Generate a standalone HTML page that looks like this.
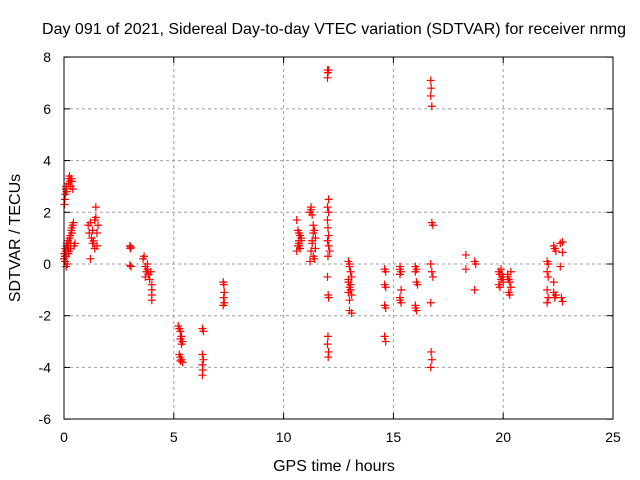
<!DOCTYPE html>
<html><head><meta charset="utf-8"><style>
html,body{margin:0;padding:0;background:#fff;}
svg{display:block;font-family:"Liberation Sans",sans-serif;}
</style></head><body>
<svg id="chart" width="640" height="480">
<rect width="640" height="480" fill="#fff"/>
<text x="334" y="34" font-size="16" text-anchor="middle">Day 091 of 2021, Sidereal Day-to-day VTEC variation (SDTVAR) for receiver nrmg</text>
<text x="334" y="471" font-size="16" text-anchor="middle">GPS time / hours</text>
<text transform="translate(20,238) rotate(-90)" font-size="16" text-anchor="middle">SDTVAR / TECUs</text>
<g id="grid"></g><g id="pts"></g>
<rect x="64" y="57" width="549" height="362" fill="none" stroke="#000" stroke-width="1"/>
</svg>
<script>
const xTicks=[0,5,10,15,20,25];
const yTicks=[-6,-4,-2,0,2,4,6,8];
const hours=[0.02,0.04,0.06,0.08,0.1,0.12,0.2,0.22,0.25,0.28,0.3,0.33,0.36,0.4,
0.0,0.02,0.04,0.06,0.08,0.1,0.12,0.14,0.16,0.18,0.2,0.22,0.25,0.28,0.3,0.33,0.36,0.4,0.43,0.46,0.5,0.05,0.1,0.15,0.2,0.3,0.35,
1.1,1.15,1.2,1.25,1.3,1.35,1.4,1.45,1.5,1.55,1.2,1.3,1.4,1.45,1.5,
3.0,3.02,3.05,3.0,3.05,
3.6,3.65,3.7,3.75,3.8,3.85,3.9,3.95,4.0,4.0,4.0,4.0,3.7,3.8,
5.2,5.25,5.3,5.35,5.4,5.3,5.35,5.25,5.3,5.35,5.4,5.3,
6.3,6.35,6.3,6.35,6.3,6.32,6.3,
7.25,7.28,7.3,7.27,7.3,7.25,
10.6,10.65,10.7,10.75,10.8,10.65,10.7,10.75,10.6,10.7,10.8,10.7,
11.2,11.25,11.3,11.35,11.4,11.45,11.3,11.25,11.35,11.4,11.2,11.3,11.35,11.45,11.25,
12.0,12.02,12.05,12.0,12.05,12.0,12.05,12.0,12.02,12.05,12.0,12.05,12.1,12.02,12.0,12.03,12.05,12.02,12.0,12.05,12.03,
12.95,13.0,13.05,13.1,12.95,13.0,13.05,13.1,13.0,12.95,13.05,13.0,13.1,13.0,12.95,
14.6,14.65,14.6,14.65,14.6,14.65,14.6,14.65,
15.3,15.35,15.3,15.35,15.3,15.35,15.3,15.3,
16.0,16.05,16.0,16.05,16.1,16.0,16.05,16.0,
16.7,16.72,16.7,16.75,16.75,16.8,16.7,16.75,16.8,16.7,16.72,16.75,16.7,
18.3,18.3,18.7,18.75,18.7,
19.8,19.85,19.9,19.95,20.0,19.8,19.9,20.0,19.85,19.95,20.2,20.25,20.3,20.35,20.25,20.3,20.2,20.35,
22.0,22.05,22.0,22.05,22.0,22.05,22.0,22.3,22.35,22.4,22.3,22.4,22.3,22.35,22.6,22.7,22.6,22.7,22.65,22.7];
const values=[2.3,2.5,2.7,2.9,3.0,2.8,3.1,3.3,3.4,3.2,3.0,3.3,3.2,2.9,
0.2,0.4,0.3,0.6,0.5,0.3,0.7,0.8,0.6,0.9,0.7,0.5,1.0,1.1,0.8,1.3,1.2,1.5,1.6,0.7,0.8,0.1,-0.1,0.0,0.4,0.6,1.4,
1.5,1.2,1.6,1.0,1.3,0.9,1.7,1.8,1.2,1.5,0.2,0.8,0.6,2.2,0.7,
0.7,0.6,0.65,-0.05,-0.1,
0.2,0.3,-0.1,-0.3,0.0,-0.4,-0.6,-0.3,-0.8,-1.0,-1.2,-1.4,-0.5,-0.2,
-2.4,-2.5,-2.6,-2.8,-3.0,-2.9,-3.1,-3.5,-3.6,-3.7,-3.8,-3.75,
-2.5,-2.6,-3.5,-3.7,-3.9,-4.1,-4.3,
-0.7,-0.8,-1.1,-1.3,-1.5,-1.6,
0.5,0.7,0.9,1.1,1.0,1.3,0.8,0.6,1.7,1.2,0.9,0.7,
2.0,2.1,1.9,1.5,1.3,1.0,0.8,0.5,0.3,0.2,0.1,0.9,1.2,0.6,2.2,
7.5,7.4,7.5,7.2,2.5,2.2,2.0,1.7,1.4,1.1,0.9,0.7,0.5,0.3,-0.5,-1.2,-1.3,-2.8,-3.1,-3.4,-3.6,
0.1,-0.1,-0.3,-0.5,-0.7,-0.9,-1.0,-1.2,-1.4,-0.6,-0.8,-1.8,-1.9,0.0,-1.1,
-0.2,-0.3,-0.8,-0.9,-1.6,-1.7,-2.8,-3.0,
-0.1,-0.3,-0.4,-1.0,-1.3,-1.5,-1.4,-0.2,
-0.1,-0.2,-0.3,-0.7,-0.8,-1.6,-1.8,-1.7,
7.1,6.8,6.5,6.1,1.6,1.5,0.0,-0.3,-0.5,-1.5,-3.4,-3.7,-4.0,
0.35,-0.2,0.1,0.0,-1.0,
-0.3,-0.4,-0.6,-0.5,-0.7,-0.8,-0.2,-0.5,-0.9,-0.4,-0.5,-0.6,-0.7,-0.9,-1.1,-1.2,-0.4,-0.3,
0.1,0.0,-0.3,-0.5,-1.0,-1.3,-1.5,0.7,0.6,0.5,-0.7,-1.2,-1.1,-1.3,-0.1,0.85,0.8,0.45,-1.3,-1.45];
const NS="http://www.w3.org/2000/svg";
const X=h=>64+h*549/25, Y=v=>264-v*362/14;
const g=document.getElementById('grid'), p=document.getElementById('pts');
function mk(t,a,par){const e=document.createElementNS(NS,t);for(const k in a)e.setAttribute(k,a[k]);par.appendChild(e);return e;}
xTicks.forEach(t=>{const x=X(t);
 if(t>0&&t<25){const l=mk('line',{x1:x,y1:57,x2:x,y2:419,stroke:'#a0a0a0','stroke-dasharray':'3,3'},g);
 
 }
 mk('line',{x1:x,y1:419,x2:x,y2:413,stroke:'#000'},g);mk('line',{x1:x,y1:57,x2:x,y2:63,stroke:'#000'},g);
 const tx=mk('text',{x:x,y:442,'font-size':14,'text-anchor':'middle'},g);tx.textContent=t;
 
 });
yTicks.forEach(t=>{const y=Y(t);
 if(t>-6&&t<8){const l=mk('line',{x1:64,y1:y,x2:613,y2:y,stroke:'#a0a0a0','stroke-dasharray':'3,3'},g);
 
 }
 mk('line',{x1:64,y1:y,x2:70,y2:y,stroke:'#000'},g);mk('line',{x1:613,y1:y,x2:607,y2:y,stroke:'#000'},g);
 const tx=mk('text',{x:51,y:y+5,'font-size':14,'text-anchor':'end'},g);tx.textContent=t;
 
 });
hours.forEach((h,i)=>{const x=X(h),y=Y(values[i]);
 const e=mk('path',{d:`M${x-4} ${y}H${x+4}M${x} ${y-4}V${y+4}`,stroke:'#ff0000','stroke-width':1.2,fill:'none'},p);
 
 });
</script>
</body></html>
